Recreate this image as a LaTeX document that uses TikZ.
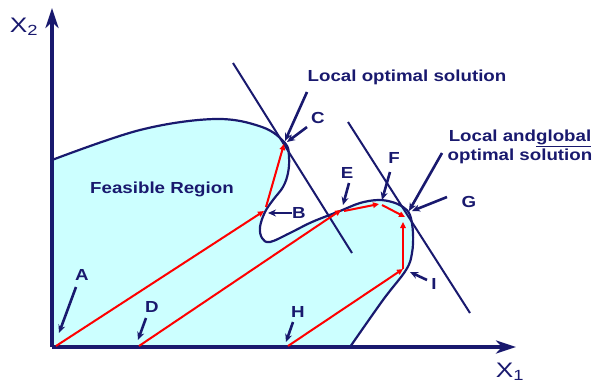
\documentclass[tikz,border=0pt]{standalone}
\usepackage{fontspec}
\setmainfont{Liberation Sans}
\usepackage{tikz}
\usetikzlibrary{arrows.meta}

\definecolor{navy}{RGB}{25,25,110}
\definecolor{feas}{RGB}{204,255,255}

\tikzset{
  lbl/.style={font=\bfseries\fontsize{16}{19}\selectfont,text=navy,xscale=1.17,inner sep=0pt},
  pointer/.style={draw=navy,line width=2.6pt,-{Stealth[length=8pt,width=7pt]}},
  move/.style={draw=red,line width=2pt,-{Triangle[length=6pt,width=5.5pt]}},
  tangent/.style={draw=navy,line width=2pt}
}

\begin{document}
\begin{tikzpicture}[x=1pt,y=-1pt]
\useasboundingbox (0,0) rectangle (606,386);
% feasible region
\fill[feas] (52,347) -- (52,160) -- plot[smooth,tension=0.6] coordinates {(52,160) (140,130) (215,119) (262,127) (285,143) (289,157) (288,173) (283,187) (273,200) (265,212) (260,227) (262,238) (270,242) (290,233) (312,222) (340,211) (360,203) (378,200) (392,202) (403,207) (410,215) (413,233) (412,253) (406,270) (383,300) (350,347)} -- cycle;
\draw[navy,line width=2.2pt] plot[smooth,tension=0.6] coordinates {(52,160) (140,130) (215,119) (262,127) (285,143) (289,157) (288,173) (283,187) (273,200) (265,212) (260,227) (262,238) (270,242) (290,233) (312,222) (340,211) (360,203) (378,200) (392,202) (403,207) (410,215) (413,233) (412,253) (406,270) (383,300) (350,347)};
% axes
\coordinate (O) at (52,347);
\coordinate (ytop) at (52,8);
\coordinate (xend) at (516,347);
\draw[navy,line width=3.5pt,-{Stealth[length=20pt,width=13pt,inset=6pt]}] (O) -- (ytop);
\draw[navy,line width=3.5pt,-{Stealth[length=20pt,width=13pt,inset=6pt]}] (O) -- (xend);
\node[text=navy,font=\fontsize{21}{24}\selectfont,xscale=1.25] (x2) at (24,27) {X\textsubscript{2}};
\node[text=navy,font=\fontsize{21}{24}\selectfont,xscale=1.25] (x1) at (510,372) {X\textsubscript{1}};
% tangent lines
\coordinate (t1a) at (233,63); \coordinate (t1b) at (352,253);
\coordinate (t2a) at (348,122); \coordinate (t2b) at (470,313);
\draw[tangent] (t1a) -- (t1b);
\draw[tangent] (t2a) -- (t2b);
% points on the search paths
\coordinate (pA) at (56,346);  \coordinate (pB) at (264,211);
\coordinate (pC) at (284,144); \coordinate (pD) at (139,346);
\coordinate (pE) at (341,210); \coordinate (pF) at (379,204);
\coordinate (pG) at (405,217); \coordinate (pH) at (288,346);
\coordinate (pI) at (403,269);
\draw[move] (pA) -- (pB);
\draw[move] ([shift={(2,-4)}]pB) -- (pC);
\draw[move] (pD) -- (pE);
\draw[move] ([shift={(3,1)}]pE) -- (pF);
\draw[move] ([shift={(3,1)}]pF) -- (pG);
\draw[move] (pH) -- (pI);
\draw[move] (pI) -- ([shift={(-2,5)}]pG);
% labels
\node[lbl] (feasible) at (162,189) {Feasible Region};
\node[lbl] (localopt) at (407,77) {Local optimal solution};
\node[lbl,align=center] (globalopt) at (520,147) {Local and\underline{global}\\optimal solution};
\node[lbl] (lA) at (82,275) {A};
\node[lbl] (lB) at (299,213) {B};
\node[lbl] (lC) at (318,118) {C};
\node[lbl] (lD) at (152,307) {D};
\node[lbl] (lE) at (347,173) {E};
\node[lbl] (lF) at (394,158) {F};
\node[lbl] (lG) at (469,202) {G};
\node[lbl] (lH) at (298,312) {H};
\node[lbl] (lI) at (434,284) {I};
% pointer arrows
\coordinate (aLoc) at (307,92);  \coordinate (aGlob) at (442,153);
\coordinate (aA) at (76,287);  \coordinate (aB) at (292,213);
\coordinate (aC) at (307,127); \coordinate (aD) at (146,318);
\coordinate (aE) at (349,183); \coordinate (aF) at (390,172);
\coordinate (aG) at (447,197); \coordinate (aH) at (293,322);
\coordinate (aI) at (427,280);
\draw[pointer] (aLoc) -- (285,141);
\draw[pointer] (aC) -- (287,142);
\draw[pointer] (aGlob) -- (409,211);
\draw[pointer] (aG) -- (412,211);
\draw[pointer] (aF) -- (382,200);
\draw[pointer] (aE) -- (343,205);
\draw[pointer] (aB) -- (268,213);
\draw[pointer] (aA) -- (59,333);
\draw[pointer] (aD) -- (138,340);
\draw[pointer] (aH) -- (286,342);
\draw[pointer] (aI) -- (410,272);
\end{tikzpicture}
\end{document}
